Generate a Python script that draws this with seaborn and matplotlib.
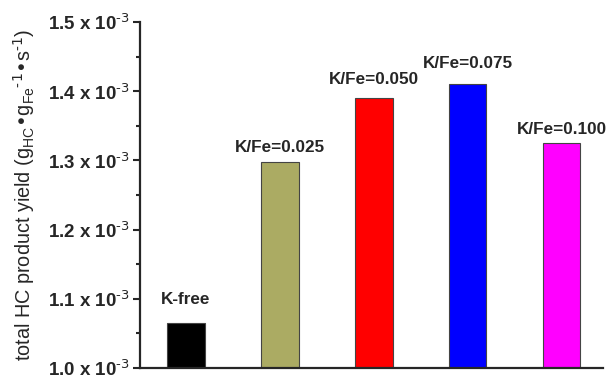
import matplotlib
matplotlib.use("Agg")
import matplotlib.pyplot as plt
from matplotlib.ticker import MultipleLocator, FuncFormatter
import seaborn as sns
import pandas as pd

# Catalyst samples and their total hydrocarbon product yield
samples = ["K-free", "K/Fe=0.025", "K/Fe=0.050", "K/Fe=0.075", "K/Fe=0.100"]
yield_vals = [1.065e-3, 1.298e-3, 1.390e-3, 1.411e-3, 1.325e-3]
bar_colors = ["#000000", "#ABAB63", "#FF0000", "#0000FF", "#FF00FF"]
ytick_vals = [1.0e-3, 1.1e-3, 1.2e-3, 1.3e-3, 1.4e-3, 1.5e-3]

sns.set_theme(style="ticks")
plt.rcParams["font.family"] = ["Liberation Sans", "DejaVu Sans"]
plt.rcParams["mathtext.default"] = "regular"

df = pd.DataFrame({"sample": samples, "yield": yield_vals})

fig = plt.figure(figsize=(6.09, 3.75), dpi=100)
ax = fig.add_axes([0.2299, 0.0187, 0.760, 0.9226])

sns.barplot(data=df, x="sample", y="yield", hue="sample", palette=bar_colors,
            saturation=1, legend=False, width=0.4, edgecolor="#444444",
            linewidth=0.8, ax=ax)

ax.set_ylim(1.0e-3, 1.5e-3)
ax.set_xlim(-0.49, 4.44)
ax.set_yticks(ytick_vals)
ax.yaxis.set_minor_locator(MultipleLocator(0.5e-4))
ax.yaxis.set_major_formatter(FuncFormatter(lambda v, p: f"{v*1e3:.1f} x 10$^{{\\text{{-3}}}}$"))
for lab in ax.get_yticklabels():
    lab.set_fontweight("bold")
ax.tick_params(axis="y", which="major", length=5, width=1.5, labelsize=13.5, pad=2, direction="out")
ax.tick_params(axis="y", which="minor", length=3, width=1.5, direction="out")
ax.tick_params(axis="x", length=0, labelbottom=False)
ax.set_xlabel("")
ax.set_ylabel("total HC product yield (g$_{HC}$•g$_{Fe}$$^{\\text{-1}}$•s$^{\\text{-1}}$)",
              fontsize=14.3, labelpad=8)

sns.despine(ax=ax)
for side in ("left", "bottom"):
    ax.spines[side].set_linewidth(1.6)

# Sample labels above each bar
label_offsets = [11.5, 5, 8, 9, 4.5]
for i, (name, val) in enumerate(zip(samples, yield_vals)):
    ax.annotate(name, xy=(i, val), xytext=(0, label_offsets[i]), textcoords="offset points",
                ha="center", va="bottom", fontsize=12.3, fontweight="bold")

fig.savefig("out.png", dpi=100)
